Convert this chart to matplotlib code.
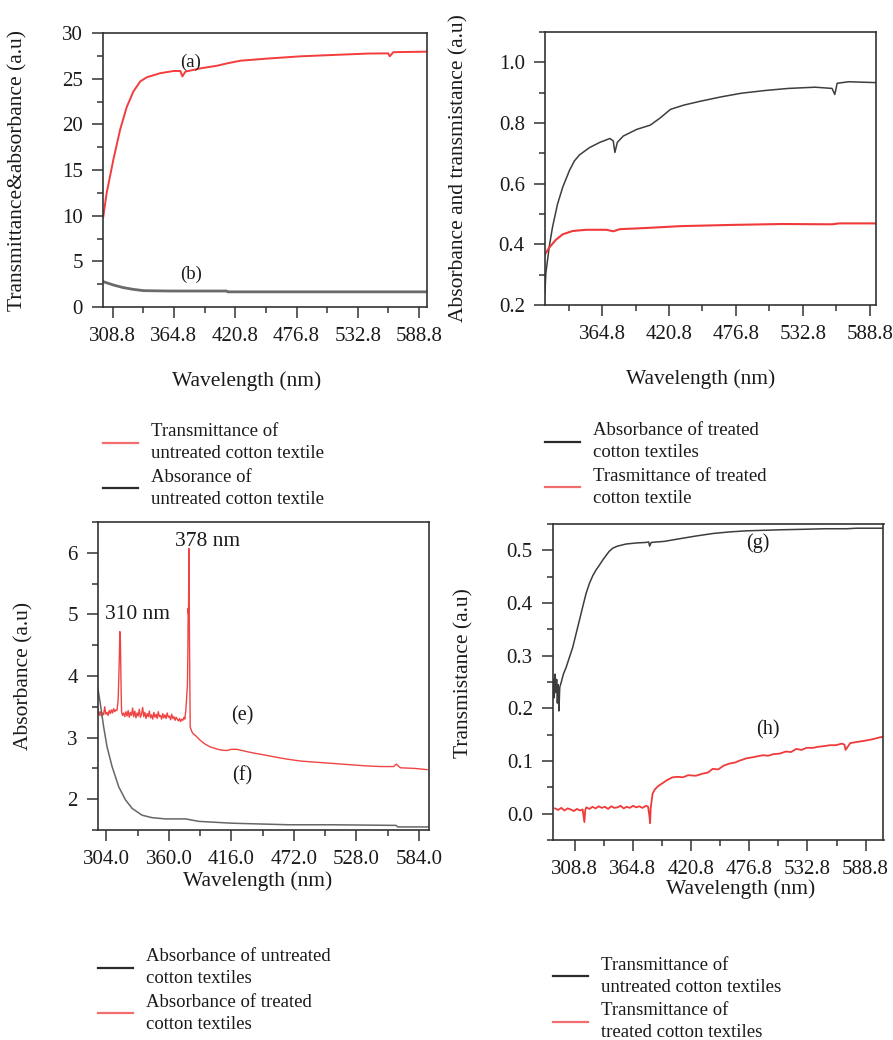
import matplotlib
matplotlib.use("Agg")
import matplotlib.pyplot as plt
from matplotlib.lines import Line2D
from matplotlib.ticker import MultipleLocator, FixedLocator, FuncFormatter

plt.rcParams['font.family'] = ['Liberation Serif', 'DejaVu Serif']

# ---------------- data ----------------
# Panel 1: untreated cotton textile
wl_a = [300.3, 303.3, 309.4, 315.6, 321.7, 327.8, 334.0, 340.0, 352.3, 364.5, 370.7, 372.5,
        375.3, 389.0, 404.3, 413.5, 425.8, 450.3, 480.9, 511.5, 542.2, 560.6, 562.0, 565.2, 597.0]
trans_a = [9.9, 12.45, 16.1, 19.4, 21.9, 23.6, 24.7, 25.15, 25.6, 25.84, 25.84, 25.25,
           25.77, 26.13, 26.42, 26.68, 26.97, 27.2, 27.45, 27.6, 27.75, 27.77, 27.45, 27.9, 27.96]
wl_b = [300.3, 309.4, 318.6, 327.8, 337.0, 360.0, 413.0, 414.0, 597.0]
abs_b = [2.77, 2.41, 2.12, 1.93, 1.79, 1.75, 1.75, 1.66, 1.66]

# Panel 2: treated cotton textiles
wl_c = [316.9, 317.7, 320.5, 323.3, 327.5, 331.8, 337.4, 341.6, 345.9, 354.3, 362.8, 371.3,
        374.1, 375.5, 377.5, 382.5, 393.8, 405.1, 413.5, 422.0, 433.2, 447.3, 464.2, 481.1,
        500.8, 520.6, 543.1, 557.2, 559.5, 561.5, 571.3, 594.7]
abs_c = [0.238, 0.304, 0.391, 0.457, 0.533, 0.588, 0.643, 0.675, 0.695, 0.719, 0.736, 0.749,
         0.741, 0.703, 0.736, 0.757, 0.779, 0.793, 0.817, 0.845, 0.859, 0.872, 0.886, 0.898,
         0.907, 0.914, 0.918, 0.914, 0.894, 0.931, 0.936, 0.933]
wl_d = [316.9, 320.5, 326.1, 331.8, 340.2, 351.5, 368.4, 374.1, 379.7, 402.3, 430.4, 472.7,
        515.0, 557.2, 562.9, 594.7]
trans_d = [0.367, 0.389, 0.415, 0.433, 0.444, 0.448, 0.448, 0.443, 0.450, 0.454, 0.460, 0.464,
           0.467, 0.466, 0.469, 0.469]

# Panel 3: absorbance
wl_e = [296.5, 297.5, 298.5, 299.5, 300.5, 301.5, 302.5, 303.5, 304.5, 305.5, 306.5, 307.5,
        308.5, 309.5, 310.5, 311.5, 312.5, 313.5, 314.5, 315.1, 315.6, 316.1, 316.6, 317.1,
        317.6, 318.5, 319.5, 320.5, 321.5, 322.5, 323.5, 324.5, 325.5, 326.5, 327.5, 328.5,
        329.5, 330.5, 331.5, 332.5, 333.5, 334.5, 335.5, 336.5, 337.5, 338.5, 339.5, 340.5,
        341.5, 342.5, 343.5, 344.5, 345.5, 346.5, 347.5, 348.5, 349.5, 350.5, 351.5, 352.5,
        353.5, 354.5, 355.5, 356.5, 357.5, 358.5, 359.5, 360.5, 361.5, 362.5, 363.5, 364.5,
        365.5, 366.5, 367.5, 368.5, 369.5, 370.5, 371.5, 372.5, 373.5, 374.3, 375.2, 375.8,
        376.6, 377.0, 377.3, 377.6, 377.9, 378.2, 378.5, 378.8, 379.1, 380.5, 381.8, 384.0,
        387.8, 392.0, 396.8, 402.0, 406.0, 411.8, 416.0, 420.7, 428.0, 435.6, 445.0, 456.6,
        466.0, 477.6, 492.0, 507.5, 522.0, 537.4, 550.0, 561.3, 563.7, 567.3, 580.0, 591.3]
abs_e = [3.47, 3.36, 3.42, 3.35, 3.40, 3.37, 3.50, 3.38, 3.41, 3.36, 3.44, 3.39,
         3.45, 3.40, 3.47, 3.42, 3.45, 3.44, 3.60, 3.95, 4.30, 4.72, 4.55, 3.90,
         3.42, 3.36, 3.40, 3.34, 3.42, 3.35, 3.44, 3.33, 3.41, 3.36, 3.48, 3.34,
         3.43, 3.32, 3.40, 3.35, 3.46, 3.33, 3.38, 3.49, 3.34, 3.41, 3.31, 3.39,
         3.34, 3.43, 3.32, 3.37, 3.30, 3.41, 3.33, 3.38, 3.31, 3.42, 3.34, 3.36,
         3.30, 3.39, 3.32, 3.37, 3.31, 3.40, 3.33, 3.35, 3.29, 3.38, 3.31, 3.34,
         3.28, 3.33, 3.30, 3.27, 3.31, 3.26, 3.30, 3.28, 3.33, 3.30, 3.45, 3.62,
         3.85, 4.40, 5.10, 5.00, 6.07, 5.20, 4.46, 3.80, 3.17, 3.10, 3.06, 3.03,
         2.96, 2.90, 2.85, 2.82, 2.80, 2.79, 2.81, 2.81, 2.78, 2.75, 2.72, 2.68,
         2.65, 2.62, 2.60, 2.58, 2.56, 2.54, 2.53, 2.53, 2.57, 2.51, 2.50, 2.48]
wl_f = [296.2, 298.6, 301.6, 304.6, 309.1, 315.1, 321.1, 327.1, 336.0, 345.0, 357.0, 375.0,
        386.9, 416.8, 467.7, 506.6, 563.5, 565.0, 592.0]
abs_f = [3.82, 3.55, 3.17, 2.85, 2.53, 2.20, 1.99, 1.85, 1.74, 1.70, 1.68, 1.68,
         1.64, 1.61, 1.585, 1.585, 1.575, 1.55, 1.55]

# Panel 4: transmittance
wl_g = [288.5, 289.2, 290.0, 290.8, 291.5, 292.2, 293.0, 293.7, 294.5, 296.0, 298.0, 300.5,
        303.5, 307.0, 310.0, 313.4, 316.5, 319.8, 323.0, 326.3, 329.5, 332.7, 336.0, 339.0,
        342.0, 345.5, 350.0, 358.4, 368.0, 377.6, 380.0, 381.0, 382.5, 395.0, 409.8, 425.0,
        442.0, 458.0, 474.0, 490.0, 506.2, 530.0, 550.0, 570.4, 580.0, 605.5]
trans_g = [0.255, 0.22, 0.265, 0.23, 0.255, 0.21, 0.245, 0.195, 0.24, 0.25, 0.265, 0.277,
           0.295, 0.316, 0.34, 0.367, 0.392, 0.418, 0.437, 0.452, 0.463, 0.472, 0.482, 0.49,
           0.498, 0.504, 0.508, 0.512, 0.514, 0.515, 0.516, 0.508, 0.515, 0.517, 0.522, 0.527,
           0.532, 0.535, 0.537, 0.538, 0.539, 0.54, 0.541, 0.541, 0.542, 0.542]
wl_h = [290, 293, 296, 299, 302, 305, 308, 311, 314, 316.5, 318.2, 319, 320, 323, 326, 329,
        332, 335, 338, 341, 344, 347, 350, 353, 356, 359, 362, 365, 368, 371, 374, 377.6,
        379.5, 380.8, 381.4, 382, 383.8, 386, 389, 393.4, 398, 403, 408, 413, 418, 425.5,
        432, 437, 441.6, 447, 452, 457.6, 463, 468, 474, 480, 485, 490, 495, 500, 506.2,
        512, 517, 522.2, 527, 532, 538.3, 543, 548, 554.4, 560, 566, 568.5, 569.5, 574,
        580, 586.5, 592, 597, 602.6, 605.5]
trans_h = [0.010, 0.007, 0.011, 0.006, 0.010, 0.008, 0.005, 0.009, 0.006, 0.008, -0.016, 0.006,
           0.012, 0.009, 0.013, 0.010, 0.014, 0.011, 0.013, 0.009, 0.014, 0.011, 0.012, 0.015,
           0.010, 0.013, 0.011, 0.015, 0.012, 0.014, 0.011, 0.015, 0.013, -0.005, -0.018, 0.010,
           0.038, 0.046, 0.052, 0.058, 0.064, 0.069, 0.070, 0.069, 0.073, 0.072, 0.076, 0.078,
           0.085, 0.084, 0.091, 0.095, 0.097, 0.101, 0.105, 0.107, 0.109, 0.111, 0.110, 0.113,
           0.114, 0.118, 0.117, 0.123, 0.121, 0.125, 0.125, 0.127, 0.128, 0.130, 0.130, 0.133,
           0.131, 0.121, 0.134, 0.136, 0.138, 0.140, 0.142, 0.145, 0.146]

xticks_a = [308.8, 364.8, 420.8, 476.8, 532.8, 588.8]
xticks_c = [364.8, 420.8, 476.8, 532.8, 588.8]
xticks_e = [304.0, 360.0, 416.0, 472.0, 528.0, 584.0]

legend1 = ["Transmittance of\nuntreated cotton textile", "Absorance of\nuntreated cotton textile"]
legend2 = ["Absorbance of treated\ncotton textiles", "Trasmittance of treated\ncotton textile"]
legend3 = ["Absorbance of untreated\ncotton textiles", "Absorbance of treated\ncotton textiles"]
legend4 = ["Transmittance of\nuntreated cotton textiles", "Transmittance of\ntreated cotton textiles"]

# ---------------- figure ----------------
W, H = 893, 1040
fig = plt.figure(figsize=(W / 100, H / 100), dpi=100)


def px_axes(l, t, r, b):
    return fig.add_axes([l / W, 1 - b / H, (r - l) / W, (b - t) / H])


RED = '#f03a3a'
DARK = '#3d3d3d'
TXT = '#1a1a1a'
TICKFS = 15
LABFS = 15.5
LEGFS = 13.5


def style(ax, xlim, ylim, xmaj, xmin, ymaj, ymin, fmt_y):
    ax.set_xlim(*xlim)
    ax.set_ylim(*ylim)
    ax.xaxis.set_major_locator(FixedLocator(xmaj))
    ax.xaxis.set_minor_locator(FixedLocator(xmin))
    ax.yaxis.set_major_locator(MultipleLocator(ymaj))
    ax.yaxis.set_minor_locator(MultipleLocator(ymin))
    ax.xaxis.set_major_formatter(FuncFormatter(lambda v, p: f"{v:.1f}"))
    ax.yaxis.set_major_formatter(FuncFormatter(fmt_y))
    ax.tick_params(which='both', direction='out', top=False, right=False, color='#333333',
                   width=1.1, labelcolor=TXT, labelsize=TICKFS)
    ax.tick_params(axis='x', which='major', length=8, pad=6.5)
    ax.tick_params(axis='y', which='major', length=8, pad=6.5)
    ax.tick_params(which='minor', length=4.5)
    for s in ax.spines.values():
        s.set_linewidth(1.2)
        s.set_color('#333333')


xmin_a = [336.8, 392.8, 448.8, 504.8, 560.8]

# Panel 1
ax1 = px_axes(103, 33, 427, 307)
l1a, = ax1.plot(wl_a, trans_a, color='#f43c3c', lw=1.4)
l1b, = ax1.plot(wl_b, abs_b, color='#6a6a6a', lw=2.0)
style(ax1, (300, 596), (0, 30), xticks_a, xmin_a, 5, 2.5, lambda v, p: f"{v:.0f}")
ax1.set_xlabel("Wavelength (nm)", fontsize=LABFS, color=TXT)
ax1.set_ylabel("Transmittance&absorbance (a.u)", fontsize=LABFS, color=TXT)
ax1.xaxis.set_label_coords(0.444, -0.235)
ax1.yaxis.set_label_coords(-0.232, 0.5)
ax1.text(380, 26.8, "(a)", fontsize=13.5, ha='center', va='center', color=TXT)
ax1.text(380, 3.6, "(b)", fontsize=13.5, ha='center', va='center', color=TXT)

# Panel 2
ax2 = px_axes(545, 32, 876, 305)
l2c, = ax2.plot(wl_c, abs_c, color=DARK, lw=1.1)
l2d, = ax2.plot(wl_d, trans_d, color=RED, lw=1.5)
style(ax2, (317, 594), (0.2, 1.1), xticks_c, xmin_a, 0.2, 0.1, lambda v, p: f"{v:.1f}")
ax2.set_xlabel("Wavelength (nm)", fontsize=LABFS, color=TXT)
ax2.set_ylabel("Absorbance and transmistance (a.u)", fontsize=LABFS, color=TXT)
ax2.xaxis.set_label_coords(0.471, -0.235)
ax2.yaxis.set_label_coords(-0.232, 0.5)

# Panel 3
ax3 = px_axes(98, 522, 429, 830)
l3e, = ax3.plot(wl_e, abs_e, color='#f04444', lw=1.0)
l3f, = ax3.plot(wl_f, abs_f, color='#666666', lw=1.1)
style(ax3, (296.5, 593), (1.5, 6.5), xticks_e, [332, 388, 444, 500, 556], 1, 0.5,
      lambda v, p: f"{v:.0f}")
ax3.set_xlabel("Wavelength (nm)", fontsize=LABFS, color=TXT)
ax3.set_ylabel("Absorbance (a.u)", fontsize=LABFS, color=TXT)
ax3.xaxis.set_label_coords(0.483, -0.135)
ax3.yaxis.set_label_coords(-0.196, 0.5)
ax3.text(332, 5.0, "310 nm", fontsize=15.5, ha='center', va='center', color=TXT)
ax3.text(395, 6.19, "378 nm", fontsize=15.5, ha='center', va='center', color=TXT)
ax3.text(425.5, 3.35, "(e)", fontsize=14.5, ha='center', va='center', color=TXT)
ax3.text(425.5, 2.38, "(f)", fontsize=14.5, ha='center', va='center', color=TXT)

# Panel 4
ax4 = px_axes(553, 524, 883.5, 840)
l4g, = ax4.plot(wl_g, trans_g, color=DARK, lw=1.1)
l4h, = ax4.plot(wl_h, trans_h, color=RED, lw=1.3)
style(ax4, (288, 606), (-0.05, 0.55), xticks_a, xmin_a, 0.1, 0.05, lambda v, p: f"{v:.1f}")
ax4.set_xlabel("Wavelength (nm)", fontsize=LABFS, color=TXT)
ax4.set_ylabel("Transmistance (a.u)", fontsize=LABFS, color=TXT)
ax4.xaxis.set_label_coords(0.568, -0.124)
ax4.yaxis.set_label_coords(-0.242, 0.528)
ax4.text(485, 0.514, "(g)", fontsize=14.5, ha='center', va='center', color=TXT)
ax4.text(494.6, 0.16, "(h)", fontsize=14.5, ha='center', va='center', color=TXT)

# Legends
LRED = '#f26e6e'
LBLK = '#2a2a2a'


def add_legend(colors, labels, xl, yc):
    handles = [Line2D([], [], color=c, lw=1.6) for c in colors]
    leg = fig.legend(handles, labels, loc='center left', bbox_to_anchor=(xl / W, 1 - yc / H),
                     bbox_transform=fig.transFigure, frameon=False, fontsize=LEGFS,
                     handlelength=1.85, handletextpad=0.7, labelspacing=0.35,
                     borderpad=0, borderaxespad=0)
    for t in leg.get_texts():
        t.set_color(TXT)
        t.set_linespacing(1.4)
    return leg


add_legend([LRED, LBLK], legend1, 103, 465.5)
add_legend([LBLK, LRED], legend2, 545, 464.5)
add_legend([LBLK, LRED], legend3, 98, 990.5)
add_legend([LBLK, LRED], legend4, 553, 999)

fig.savefig("out.png", dpi=100)
